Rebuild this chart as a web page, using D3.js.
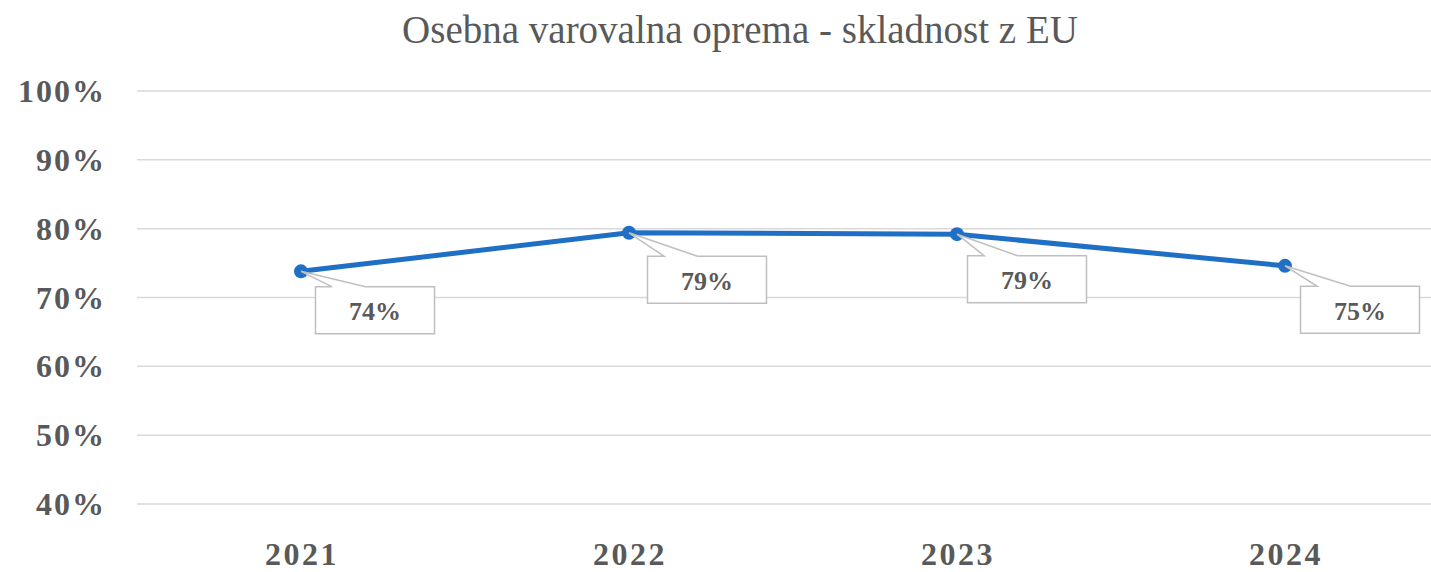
<!DOCTYPE html>
<html lang="sl">
<head>
  <meta charset="UTF-8">
  <title>Osebna varovalna oprema - skladnost z EU</title>
  <script src="https://d3js.org/d3.v7.min.js"></script>
  <style>
    body { margin: 0; background: white; }
    svg text { font-family: "Liberation Serif", "DejaVu Serif", serif; fill: #595959; font-variant-numeric: oldstyle-nums; }
  </style>
</head>
<body>
  <svg id="chart" width="1431" height="572"></svg>
  <script>
    const years = ["2021", "2022", "2023", "2024"];
    const values = [0.738, 0.794, 0.792, 0.746];
    const labels = ["74%", "79%", "79%", "75%"];
    const yTicks = [0.4, 0.5, 0.6, 0.7, 0.8, 0.9, 1.0];
    // label box offset from its point
    const labelOffsets = [[74, 39], [78, 47], [70, 45], [75, 44]];

    const svg = d3.select("#chart");
    const margin = {top: 91, left: 137, bottom: 68};
    const plotRight = 1449;
    const height = +svg.attr("height");

    const x = d3.scaleBand().domain(years).range([margin.left, plotRight]);
    const y = d3.scaleLinear().domain([0.4, 1.0]).range([height - margin.bottom, margin.top]);

    svg.append("text")
      .attr("x", 740).attr("y", 43)
      .attr("text-anchor", "middle")
      .style("font-size", "39px")
      .text("Osebna varovalna oprema - skladnost z EU");

    // gridlines
    svg.selectAll(".grid")
      .data(yTicks)
      .enter().append("line")
      .attr("x1", margin.left).attr("x2", 1431)
      .attr("y1", d => y(d)).attr("y2", d => y(d))
      .attr("stroke", "#d9d9d9").attr("stroke-width", 1.5);

    svg.selectAll(".ytick")
      .data(yTicks)
      .enter().append("text")
      .attr("x", 106).attr("y", d => y(d) + 11)
      .attr("text-anchor", "end")
      .style("font-size", "32px").style("font-weight", "bold")
      .style("letter-spacing", "2px")
      .text(d3.format(".0%"));

    svg.selectAll(".xtick")
      .data(years)
      .enter().append("text")
      .attr("x", d => x(d) + x.bandwidth() / 2 + 1).attr("y", 565)
      .attr("text-anchor", "middle")
      .style("font-size", "32px").style("font-weight", "bold")
      .style("letter-spacing", "2.5px")
      .text(d => d);

    const pts = years.map((yr, i) => ({
      yr, v: values[i], label: labels[i],
      cx: x(yr) + x.bandwidth() / 2, cy: y(values[i]), off: labelOffsets[i]
    }));

    svg.append("path")
      .datum(pts)
      .attr("fill", "none")
      .attr("stroke", "#1f6fc5")
      .attr("stroke-width", 5)
      .attr("d", d3.line().x(d => d.cx).y(d => d.cy));

    svg.selectAll(".dot")
      .data(pts)
      .enter().append("circle")
      .attr("cx", d => d.cx).attr("cy", d => d.cy).attr("r", 7)
      .attr("fill", "#1f6fc5");

    // callout labels
    const bw = 119, bh = 47;
    const g = svg.selectAll(".lbl").data(pts).enter().append("g");
    g.append("path")
      .attr("d", d => {
        const bx = d.cx + d.off[0] - bw / 2, by = d.cy + d.off[1] - bh / 2;
        return `M${bx},${by} L${bx + bw * 0.14},${by} L${d.cx},${d.cy} L${bx + bw * 0.42},${by} L${bx + bw},${by} L${bx + bw},${by + bh} L${bx},${by + bh} Z`;
      })
      .attr("fill", "white")
      .attr("stroke", "#bfbfbf").attr("stroke-width", 1.5);
    g.append("text")
      .attr("x", d => d.cx + d.off[0])
      .attr("y", d => d.cy + d.off[1] + 10)
      .attr("text-anchor", "middle")
      .style("font-size", "26px").style("font-weight", "bold")
      .text(d => d.label);
  </script>
</body>
</html>
